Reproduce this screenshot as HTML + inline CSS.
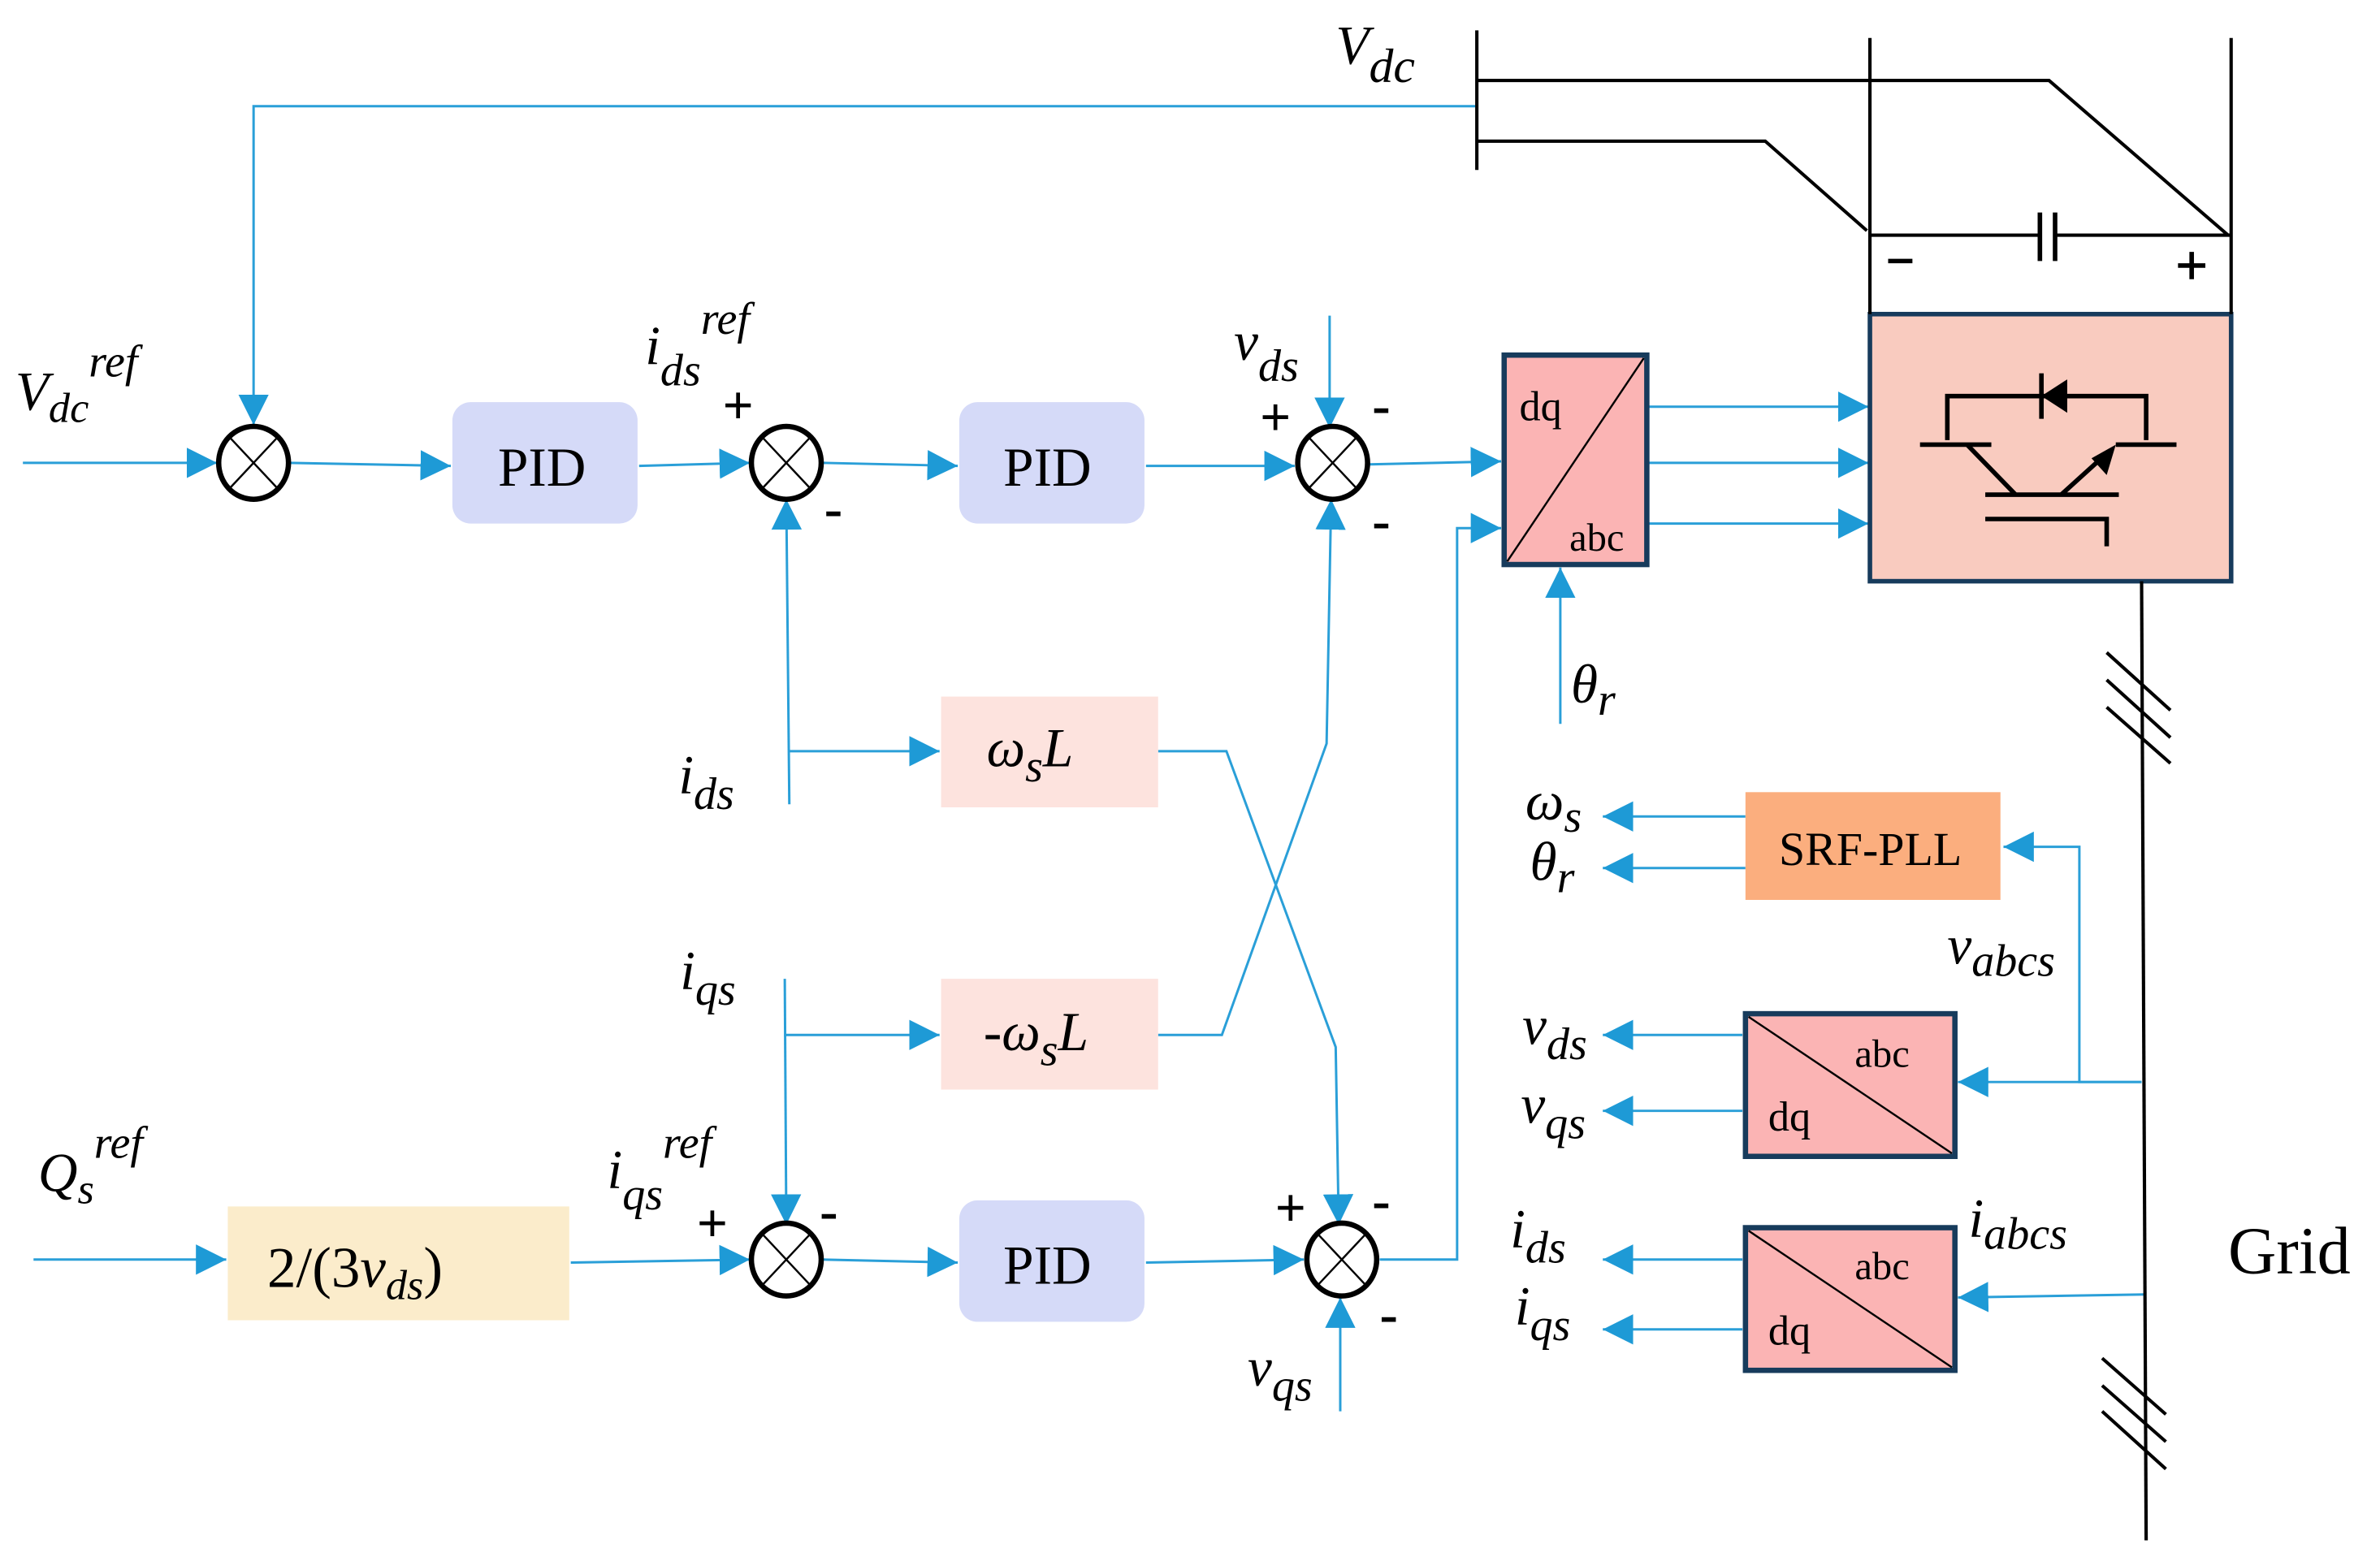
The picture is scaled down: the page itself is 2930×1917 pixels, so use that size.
<!DOCTYPE html>
<html><head><meta charset="utf-8"><style>
html,body{margin:0;padding:0;background:#fff;}
svg{display:block;}
text{font-family:"Liberation Serif",serif;fill:#000;}
.m{font-style:italic;}
.sg{font-family:"Liberation Sans",sans-serif;font-weight:bold;font-size:36px;}
</style></head><body>
<svg width="2930" height="1917" viewBox="0 0 1568 1026" xmlns="http://www.w3.org/2000/svg">
<defs>
<marker id="a" viewBox="0 0 10 10" refX="10" refY="5" markerWidth="20" markerHeight="20" markerUnits="userSpaceOnUse" orient="auto">
<path d="M0,0 L10,5 L0,10 z" fill="#1e9ad6"/></marker>
</defs>
<g stroke="#2a9fd8" stroke-width="1.6" fill="none">
<polyline points="972,70 167,70 167,280" marker-end="url(#a)"/>
<line x1="15" y1="305" x2="143" y2="305" marker-end="url(#a)"/>
<line x1="190" y1="305" x2="297" y2="307" marker-end="url(#a)"/>
<line x1="421" y1="307" x2="494" y2="305" marker-end="url(#a)"/>
<line x1="542" y1="305" x2="631" y2="307" marker-end="url(#a)"/>
<line x1="755" y1="307" x2="853" y2="307" marker-end="url(#a)"/>
<line x1="876" y1="208" x2="876" y2="282" marker-end="url(#a)"/>
<line x1="902" y1="306" x2="989" y2="304" marker-end="url(#a)"/>
<line x1="1086" y1="268" x2="1231" y2="268" marker-end="url(#a)"/>
<line x1="1086" y1="305" x2="1231" y2="305" marker-end="url(#a)"/>
<line x1="1086" y1="345" x2="1231" y2="345" marker-end="url(#a)"/>
<polyline points="909,830 960,830 960,348 989,348" marker-end="url(#a)"/>
<line x1="1028" y1="477" x2="1028" y2="374" marker-end="url(#a)"/>
<line x1="520" y1="530" x2="518" y2="329" marker-end="url(#a)"/>
<line x1="520" y1="495" x2="619" y2="495" marker-end="url(#a)"/>
<line x1="517" y1="645" x2="518" y2="807" marker-end="url(#a)"/>
<line x1="517" y1="682" x2="619" y2="682" marker-end="url(#a)"/>
<polyline points="763,495 808,495 880,690 882,807" marker-end="url(#a)"/>
<polyline points="763,682 805,682 874,490 877,329" marker-end="url(#a)"/>
<line x1="22" y1="830" x2="149" y2="830" marker-end="url(#a)"/>
<line x1="376" y1="832" x2="494" y2="830" marker-end="url(#a)"/>
<line x1="542" y1="830" x2="631" y2="832" marker-end="url(#a)"/>
<line x1="755" y1="832" x2="859" y2="830" marker-end="url(#a)"/>
<line x1="883" y1="930" x2="883" y2="855" marker-end="url(#a)"/>
<line x1="1150" y1="538" x2="1056" y2="538" marker-end="url(#a)"/>
<line x1="1150" y1="572" x2="1056" y2="572" marker-end="url(#a)"/>
<polyline points="1411,713 1370,713 1370,558 1320,558" marker-end="url(#a)"/>
<line x1="1411" y1="713" x2="1290" y2="713" marker-end="url(#a)"/>
<line x1="1148" y1="682" x2="1056" y2="682" marker-end="url(#a)"/>
<line x1="1148" y1="732" x2="1056" y2="732" marker-end="url(#a)"/>
<line x1="1413" y1="853" x2="1290" y2="855" marker-end="url(#a)"/>
<line x1="1148" y1="830" x2="1056" y2="830" marker-end="url(#a)"/>
<line x1="1148" y1="876" x2="1056" y2="876" marker-end="url(#a)"/>
</g>
<g stroke="#000" fill="#fff">
<g stroke-width="3.5"><ellipse cx="167" cy="305" rx="23" ry="24"/><ellipse cx="518" cy="305" rx="23" ry="24"/><ellipse cx="878" cy="305" rx="23" ry="24"/><ellipse cx="518" cy="830" rx="23" ry="24"/><ellipse cx="884" cy="830" rx="23" ry="24"/></g>
<g stroke-width="1.3">
<path d="M152,289 L182,321 M182,289 L152,321"/>
<path d="M503,289 L533,321 M533,289 L503,321"/>
<path d="M863,289 L893,321 M893,289 L863,321"/>
<path d="M503,814 L533,846 M533,814 L503,846"/>
<path d="M869,814 L899,846 M899,814 L869,846"/>
</g></g>
<rect x="298" y="265" width="122" height="80" rx="12" fill="#d5daf8"/>
<rect x="632" y="265" width="122" height="80" rx="12" fill="#d5daf8"/>
<rect x="632" y="791" width="122" height="80" rx="12" fill="#d5daf8"/>
<rect x="620" y="459" width="143" height="73" fill="#fde3de"/>
<rect x="620" y="645" width="143" height="73" fill="#fde3de"/>
<rect x="150" y="795" width="225" height="75" fill="#fbeccb"/>
<rect x="1150" y="522" width="168" height="71" fill="#fbae7e"/>
<rect x="991" y="234" width="94" height="138" fill="#fbb4b4" stroke="#173b5c" stroke-width="3.5"/>
<line x1="993" y1="370" x2="1083" y2="236" stroke="#000" stroke-width="1.3"/>
<rect x="1150" y="668" width="138" height="94" fill="#fbb4b4" stroke="#173b5c" stroke-width="3.5"/>
<line x1="1152" y1="670" x2="1286" y2="760" stroke="#000" stroke-width="1.3"/>
<rect x="1150" y="809" width="138" height="94" fill="#fbb4b4" stroke="#173b5c" stroke-width="3.5"/>
<line x1="1152" y1="811" x2="1286" y2="901" stroke="#000" stroke-width="1.3"/>
<rect x="1232" y="207" width="238" height="176" fill="#f9cbbf" stroke="#173b5c" stroke-width="3"/>
<g stroke="#000" stroke-width="2.2" fill="none">
<line x1="973" y1="20" x2="973" y2="112"/>
<polyline points="973,53 1350,53 1468,155"/>
<polyline points="973,93 1163,93 1230,152"/>
<line x1="1232" y1="25" x2="1232" y2="207"/>
<line x1="1470" y1="25" x2="1470" y2="207"/>
<line x1="1232" y1="155" x2="1344" y2="155"/>
<line x1="1354" y1="155" x2="1470" y2="155"/>
<line x1="1344" y1="140" x2="1344" y2="172" stroke-width="3"/>
<line x1="1354" y1="140" x2="1354" y2="172" stroke-width="3"/>
<line x1="1244" y1="172" x2="1260" y2="172" stroke-width="3"/>
<path d="M1435,175 h18 M1444,166 v18" stroke-width="3"/>
<line x1="1411" y1="383" x2="1414" y2="1015"/>
<path d="M1388,430 L1430,468 M1388,448 L1430,486 M1388,466 L1430,503"/>
<path d="M1385,895 L1427,932 M1385,913 L1427,950 M1385,930 L1427,968"/>
<g stroke-width="3">
<polyline points="1283,290 1283,261 1414,261 1414,290"/>
<line x1="1345" y1="246" x2="1345" y2="276"/>
<line x1="1265" y1="293" x2="1312" y2="293"/>
<line x1="1394" y1="293" x2="1434" y2="293"/>
<line x1="1296" y1="293" x2="1328" y2="326"/>
<line x1="1358" y1="326" x2="1390" y2="297"/>
<line x1="1308" y1="326" x2="1396" y2="326"/>
<polyline points="1308,342 1388,342 1388,360"/>
</g>
</g>
<path d="M1345,261 L1362,250 L1362,272 z" fill="#000"/>
<path d="M1394,293 L1378,302 L1388,313 z" fill="#000"/>
<g class="sg">
<text x="476" y="279">+</text><text x="543" y="347">-</text>
<text x="830" y="287">+</text><text x="904" y="279">-</text><text x="904" y="355">-</text>
<text x="459" y="818">+</text><text x="540" y="810">-</text>
<text x="840" y="808">+</text><text x="904" y="803">-</text><text x="909" y="878">-</text>
</g>
<g font-size="36">
<text x="328" y="320">PID</text><text x="661" y="320">PID</text><text x="661" y="846">PID</text>
<text x="176" y="848" font-size="38">2/(3<tspan class="m">v</tspan><tspan class="m" font-size="28" dy="8">ds</tspan><tspan dy="-8">)</tspan></text>
<text x="1172" y="570" font-size="31">SRF-PLL</text>
<text x="1468" y="839" font-size="44">Grid</text>
</g>
<g font-size="28"><text x="1001" y="277">dq</text><text x="1034" y="363" font-size="26">abc</text>
<text x="1222" y="703" font-size="26">abc</text><text x="1165" y="745">dq</text>
<text x="1222" y="843" font-size="26">abc</text><text x="1165" y="886">dq</text></g>
<g class="m" font-size="36">
<text x="10" y="270">V<tspan font-size="28" dy="8">dc</tspan><tspan font-size="30" dy="-30">ref</tspan></text>
<text x="425" y="240">i<tspan font-size="30" dy="14">ds</tspan><tspan font-size="30" dy="-34">ref</tspan></text>
<text x="813" y="237">v<tspan font-size="30" dy="14">ds</tspan></text>
<text x="880" y="42">V<tspan font-size="32" dy="12">dc</tspan></text>
<text x="1035" y="463">θ<tspan font-size="30" dy="8">r</tspan></text>
<text x="650" y="505">ω<tspan font-size="30" dy="10">s</tspan><tspan dy="-10">L</tspan></text>
<text x="648" y="692">-ω<tspan font-size="30" dy="10">s</tspan><tspan dy="-10">L</tspan></text>
<text x="447" y="523">i<tspan font-size="30" dy="10">ds</tspan></text>
<text x="448" y="652">i<tspan font-size="30" dy="10">qs</tspan></text>
<text x="25" y="785">Q<tspan font-size="28" dy="8">s</tspan><tspan font-size="30" dy="-30">ref</tspan></text>
<text x="400" y="783">i<tspan font-size="30" dy="14">qs</tspan><tspan font-size="30" dy="-34">ref</tspan></text>
<text x="822" y="913">v<tspan font-size="30" dy="10">qs</tspan></text>
<text x="1005" y="540">ω<tspan font-size="30" dy="8">s</tspan></text>
<text x="1008" y="580">θ<tspan font-size="30" dy="8">r</tspan></text>
<text x="1283" y="635">v<tspan font-size="30" dy="8">abcs</tspan></text>
<text x="1003" y="688">v<tspan font-size="30" dy="10">ds</tspan></text>
<text x="1002" y="740">v<tspan font-size="30" dy="10">qs</tspan></text>
<text x="1297" y="815">i<tspan font-size="30" dy="8">abcs</tspan></text>
<text x="995" y="822">i<tspan font-size="30" dy="10">ds</tspan></text>
<text x="998" y="873">i<tspan font-size="30" dy="10">qs</tspan></text>
</g>
</svg>
</body></html>
